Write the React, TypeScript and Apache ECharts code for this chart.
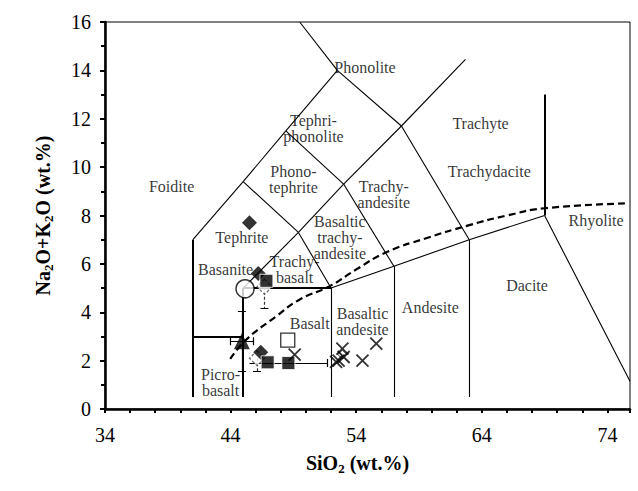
import React, { useEffect, useRef } from "react";
import * as echarts from "echarts";

const X_MIN = 34;
const X_MAX = 75.8;
const Y_MIN = 0;
const Y_MAX = 16;
const X_LABELS = [34, 44, 54, 64, 74];

// TAS boundary segments [x1, y1, x2, y2]
const thinBoundaries = [
  [41, 7, 45, 9.4],
  [45, 9.4, 48.4, 11.5],
  [48.4, 11.5, 52.5, 14],
  [52.5, 14, 49.5, 16],
  [52.5, 14, 57.6, 11.7],
  [57.6, 11.7, 62.7, 14.45],
  [45, 9.4, 49.4, 7.3],
  [49.4, 7.3, 53, 9.3],
  [53, 9.3, 48.4, 11.5],
  [53, 9.3, 57.6, 11.7],
  [49.4, 7.3, 45, 5],
  [49.4, 7.3, 52, 5],
  [53, 9.3, 57, 5.9],
  [57.6, 11.7, 63, 7],
  [52, 5, 57, 5.9],
  [57, 5.9, 63, 7],
  [63, 7, 69, 8],
  [69, 8, 75.8, 1.15],
  [52, 0.5, 52, 5],
  [57, 0.5, 57, 5.9],
  [63, 0.5, 63, 7],
];
const thickBoundaries = [
  [41, 0.5, 41, 7],
  [41, 3, 45, 3],
  [45, 0.5, 45, 5],
  [45, 5, 52, 5],
  [69, 8, 69, 13],
];

// alkaline / subalkaline dividing curve
const dividerX = [43.97, 45.25, 47.63, 49.48, 51.86, 53.98, 56.36, 59.5, 63, 66, 69, 75.6];
const dividerY = [2.07, 2.87, 3.83, 4.52, 5.07, 5.76, 6.47, 7.05, 7.6, 8.0, 8.3, 8.5];

// field names
const fieldNames = [
  "Phonolite", "Tephri-\nphonolite", "Trachyte", "Phono-\ntephrite", "Foidite",
  "Trachy-\nandesite", "Trachydacite", "Tephrite", "Basaltic\ntrachy-\nandesite",
  "Rhyolite", "Basanite", "Trachy-\nbasalt", "Basalt", "Basaltic\nandesite",
  "Andesite", "Dacite", "Picro-\nbasalt",
];
const fieldX = [54.7, 50.6, 63.9, 49.0, 39.3, 56.2, 64.6, 44.9, 52.7, 73.1, 43.6, 49.1, 50.3, 54.5, 59.9, 67.6, 43.2];
const fieldY = [14.1, 11.6, 11.8, 9.5, 9.2, 8.85, 9.8, 7.1, 7.1, 7.8, 5.75, 5.75, 3.55, 3.6, 4.2, 5.1, 1.1];

// samples
const blackDiamondX = [45.5, 46.2, 46.4];
const blackDiamondY = [7.7, 5.6, 2.35];
const dashedDiamondX = [46.7, 46.1];
const dashedDiamondY = [5.05, 2.1];
const dashedDiamondErrY = [0.87, 0.55];
const blackSquareX = [46.85, 46.95, 48.6];
const blackSquareY = [5.3, 1.93, 1.9];
const openSquareX = [48.55];
const openSquareY = [2.85];
const openCircleX = [45.15];
const openCircleY = [4.97];
const triangleX = [44.9];
const triangleY = [2.8];
const triangleErrX = [0.9];
const triangleErrY = [1.24];
const squareErrLeft = [45.5];
const squareErrRight = [51.67];
const crossX = [49.1, 52.9, 53.0, 52.4, 52.6, 54.5, 55.6];
const crossY = [2.25, 2.5, 2.15, 1.95, 2.0, 2.0, 2.7];
const smallDiamondX = [52.9];
const smallDiamondY = [2.25];

const FONT = "'Liberation Serif', 'Times New Roman', serif";

function seg(a: number[]) {
  return { coords: [[a[0], a[1]], [a[2], a[3]]] };
}

function buildOption() {
  const capX = 0.32;
  const capY = 0.165;
  const solidErr: number[][] = [];
  const dashedErr: number[][] = [];
  triangleX.forEach((x, i) => {
    const y = triangleY[i];
    const dx = triangleErrX[i];
    const dy = triangleErrY[i];
    solidErr.push([x - dx, y, x + dx, y]);
    solidErr.push([x - dx, y - capY, x - dx, y + capY]);
    solidErr.push([x + dx, y - capY, x + dx, y + capY]);
    solidErr.push([x, y - dy, x, y + dy]);
    solidErr.push([x - capX, y - dy, x + capX, y - dy]);
    solidErr.push([x - capX, y + dy, x + capX, y + dy]);
  });
  squareErrLeft.forEach((l, i) => {
    const r = squareErrRight[i];
    const y = blackSquareY[2];
    solidErr.push([l, y, r, y]);
    solidErr.push([r, y - capY, r, y + capY]);
  });
  dashedDiamondX.forEach((x, i) => {
    const y = dashedDiamondY[i];
    const dy = dashedDiamondErrY[i];
    dashedErr.push([x, y, x, y - dy]);
    solidErr.push([x - capX, y - dy, x + capX, y - dy]);
  });

  const z = (xs: number[], ys: number[]) => xs.map((x, i) => [x, ys[i]]);
  const richName = {
    a: { fontFamily: FONT, fontWeight: "bold", fontSize: 20, lineHeight: 25, color: "#000" },
    b: { fontFamily: FONT, fontWeight: "bold", fontSize: 13, lineHeight: 13, verticalAlign: "bottom", color: "#000" },
  };

  return {
    animation: false,
    backgroundColor: "#fff",
    textStyle: { fontFamily: FONT },
    grid: {
      left: 105,
      right: 8,
      top: 22,
      bottom: 82,
      show: true,
      borderColor: "#000",
      borderWidth: 1,
      backgroundColor: "transparent",
    },
    xAxis: {
      type: "value",
      min: X_MIN,
      max: X_MAX,
      interval: 2,
      name: "{a|SiO}{b|2}{a| (wt.%)}",
      nameLocation: "middle",
      nameGap: 41,
      nameTextStyle: {
        fontFamily: FONT,
        fontWeight: "bold",
        fontSize: 20,
        color: "#000",
        padding: [0, 20, 0, 0],
        rich: richName,
      },
      axisLine: { show: true, onZero: false, lineStyle: { color: "#000", width: 2.5 } },
      axisTick: { show: true, inside: false, length: 4, lineStyle: { color: "#000", width: 2 } },
      axisLabel: {
        margin: 16,
        fontFamily: FONT,
        fontSize: 20,
        color: "#000",
        formatter: (v: number) => (X_LABELS.indexOf(Math.round(v * 100) / 100) >= 0 ? String(v) : ""),
      },
      splitLine: { show: false },
    },
    yAxis: {
      type: "value",
      min: Y_MIN,
      max: Y_MAX,
      interval: 2,
      name: "{a|Na}{b|2}{a|O+K}{b|2}{a|O (wt.%)}",
      nameLocation: "middle",
      nameGap: 50,
      nameRotate: 90,
      nameTextStyle: { fontFamily: FONT, fontWeight: "bold", fontSize: 20, color: "#000", rich: richName },
      axisLine: { show: true, onZero: false, lineStyle: { color: "#000", width: 2.5 } },
      axisTick: { show: true, inside: false, length: 5, lineStyle: { color: "#000", width: 2 } },
      minorTick: { show: true, splitNumber: 2, length: 4, lineStyle: { color: "#000", width: 2 } },
      axisLabel: { margin: 14, fontFamily: FONT, fontSize: 20, color: "#000" },
      splitLine: { show: false },
    },
    series: [
      {
        type: "lines",
        coordinateSystem: "cartesian2d",
        silent: true,
        z: 2,
        lineStyle: { color: "#000", width: 1.1, opacity: 1 },
        data: thinBoundaries.map(seg),
      },
      {
        type: "lines",
        coordinateSystem: "cartesian2d",
        silent: true,
        z: 2,
        lineStyle: { color: "#000", width: 2, opacity: 1 },
        data: thickBoundaries.map(seg),
      },
      {
        type: "line",
        smooth: true,
        silent: true,
        symbol: "none",
        z: 3,
        lineStyle: { color: "#000", width: 2.2, type: [7, 4] },
        data: z(dividerX, dividerY),
      },
      {
        type: "scatter",
        silent: true,
        z: 4,
        symbolSize: 1,
        itemStyle: { color: "rgba(0,0,0,0)" },
        label: {
          show: true,
          position: "inside",
          formatter: "{b}",
          fontFamily: FONT,
          fontSize: 16,
          lineHeight: 16,
          color: "#000",
        },
        data: fieldNames.map((n, i) => ({ name: n, value: [fieldX[i], fieldY[i]] })),
      },
      {
        type: "lines",
        coordinateSystem: "cartesian2d",
        silent: true,
        z: 5,
        lineStyle: { color: "#000", width: 1.2, opacity: 1 },
        data: solidErr.map(seg),
      },
      {
        type: "lines",
        coordinateSystem: "cartesian2d",
        silent: true,
        z: 5,
        lineStyle: { color: "#333", width: 1.2, type: [3, 2], opacity: 1 },
        data: dashedErr.map(seg),
      },
      {
        type: "scatter",
        z: 6,
        symbol: "diamond",
        symbolSize: 15,
        itemStyle: { color: "#fff", borderColor: "#444", borderWidth: 1.2, borderType: [3, 2] },
        data: z(dashedDiamondX, dashedDiamondY),
      },
      {
        type: "scatter",
        z: 7,
        symbol: "diamond",
        symbolSize: 15,
        itemStyle: { color: "#000" },
        data: z(blackDiamondX, blackDiamondY),
      },
      {
        type: "scatter",
        z: 8,
        symbol: "rect",
        symbolSize: 13,
        itemStyle: { color: "#000", borderColor: "#fff", borderWidth: 1 },
        data: z(blackSquareX, blackSquareY),
      },
      {
        type: "scatter",
        z: 8,
        symbol: "rect",
        symbolSize: 14,
        itemStyle: { color: "#fff", borderColor: "#000", borderWidth: 1.3 },
        data: z(openSquareX, openSquareY),
      },
      {
        type: "scatter",
        z: 8,
        symbol: "circle",
        symbolSize: 18,
        itemStyle: { color: "#fff", borderColor: "#000", borderWidth: 1.5 },
        data: z(openCircleX, openCircleY),
      },
      {
        type: "scatter",
        z: 8,
        symbol: "triangle",
        symbolSize: 16,
        itemStyle: { color: "#000" },
        data: z(triangleX, triangleY),
      },
      {
        type: "scatter",
        z: 8,
        symbol: "diamond",
        symbolSize: 9,
        itemStyle: { color: "#fff", borderColor: "#000", borderWidth: 1 },
        data: z(smallDiamondX, smallDiamondY),
      },
      {
        type: "scatter",
        z: 9,
        symbol: "path://M0,0L10,10M10,0L0,10",
        symbolSize: 12,
        itemStyle: { color: "none", borderColor: "#000", borderWidth: 1.8 },
        data: z(crossX, crossY),
      },
    ],
  };
}

export default function App() {
  const ref = useRef<HTMLDivElement>(null);
  useEffect(() => {
    document.body.style.margin = "0";
    if (!ref.current) return;
    const chart = echarts.init(ref.current, undefined, { renderer: "svg" });
    chart.setOption(buildOption() as any);
    return () => chart.dispose();
  }, []);
  return <div ref={ref} style={{ width: 638, height: 491, position: "absolute", left: 0, top: 0 }} />;
}
